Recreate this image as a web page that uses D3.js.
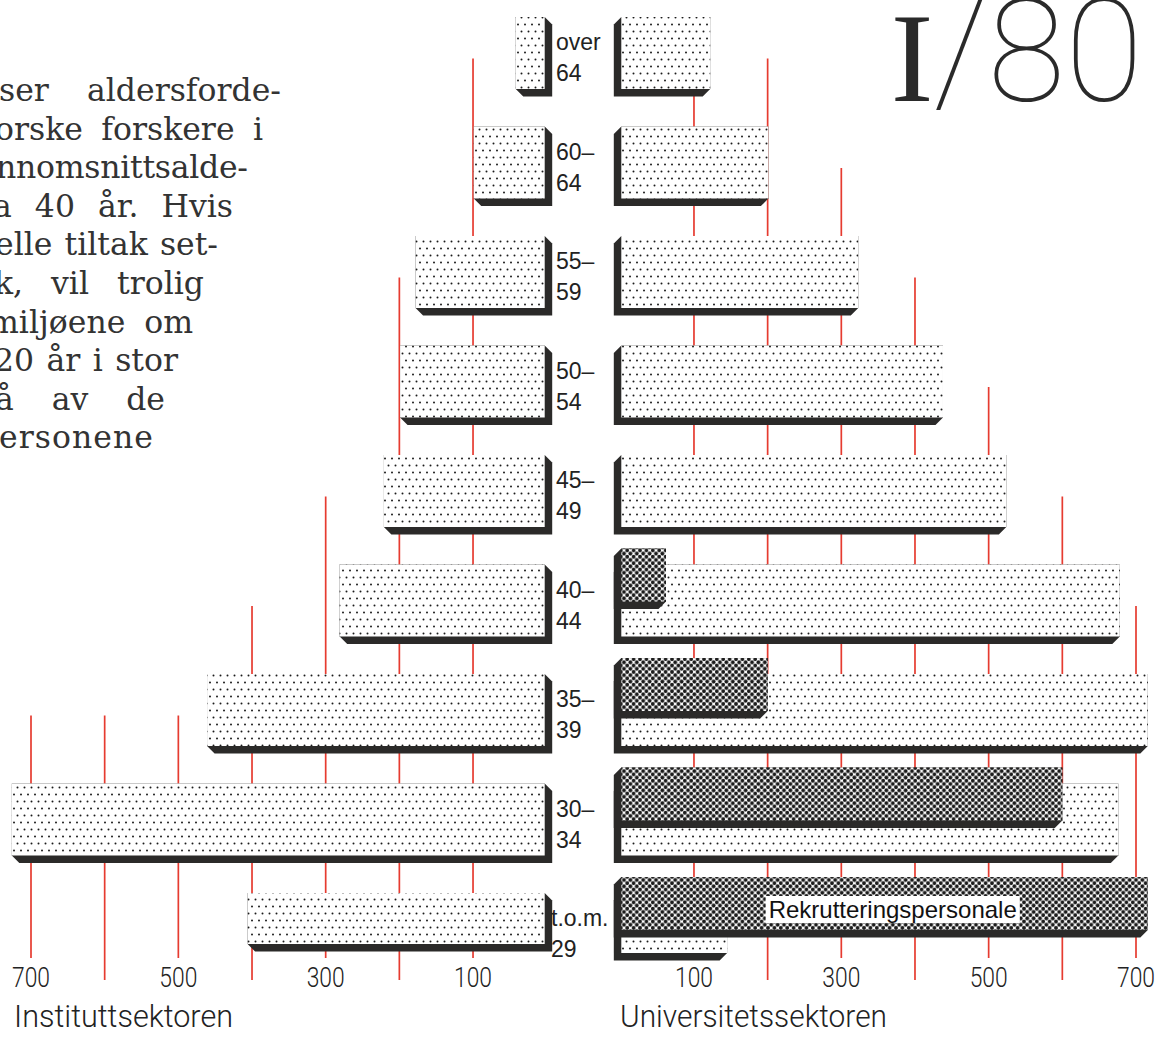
<!DOCTYPE html>
<html><head><meta charset="utf-8">
<script src="https://cdn.jsdelivr.net/npm/d3@7"></script>
<style>body{margin:0;background:#fff}svg{display:block}</style>
</head><body><svg id="c" width="1155" height="1042"></svg>
<script>
// ---------- DATA ----------
const ageKeys = ["over 64","60-64","55-59","50-54","45-49","40-44","35-39","30-34","t.o.m. 29"];
const ageLine1 = ["over","60–","55–","50–","45–","40–","35–","30–","t.o.m."];
const ageLine2 = ["64","64","59","54","49","44","39","34","29"];
const institutt    = [42, 99, 178, 199, 221, 281, 461, 726, 406];
const universitet  = [122, 201, 323, 438, 524, 678, 716, 676, 145];
const rekruttering = [0, 0, 0, 0, 0, 62, 200, 600, 716];
const gridValues = [100, 200, 300, 400, 500, 600, 700];
const tickLabels = [100, 300, 500, 700];
const leftTitle = "Instituttsektoren";
const rightTitle = "Universitetssektoren";
const legendLabel = "Rekrutteringspersonale";
const issueLabel = "I/80";
const textLines = ["ser aldersforde-","orske forskere i","nnomsnittsalde-","a 40 år. Hvis","elle tiltak set-","k, vil trolig","miljøene om","20 år i stor","å av de","ersonene"];

// ---------- SETUP ----------
const svg = d3.select("#c");
const defs = svg.append("defs");
const dotCol = "#1b1b1b", shadowCol = "#2b2a29", red = "#e63b30", ink = "#333";

const pl = defs.append("pattern").attr("id","light").attr("patternUnits","userSpaceOnUse").attr("width",7).attr("height",14);
pl.append("rect").attr("width",7).attr("height",14).attr("fill","#fff");
[[3.5,3.5],[0,10.5],[7,10.5]].forEach(([cx,cy])=>pl.append("circle").attr("cx",cx).attr("cy",cy).attr("r",1.0).attr("fill",dotCol));
const pd = defs.append("pattern").attr("id","dark").attr("patternUnits","userSpaceOnUse").attr("width",6.4).attr("height",6.4);
pd.append("rect").attr("width",6.4).attr("height",6.4).attr("fill","#fff");
[[3.2,3.2],[0,0],[6.4,0],[0,6.4],[6.4,6.4]].forEach(([cx,cy])=>pd.append("circle").attr("cx",cx).attr("cy",cy).attr("r",1.95).attr("fill",dotCol));

const y = d3.scaleBand().domain(ageKeys).range([17, 965]).paddingInner(0.3425).paddingOuter(0).align(0);
const bh = y.bandwidth();
const xL = d3.scaleLinear().domain([0,700]).range([546.7, 31]);
const xR = d3.scaleLinear().domain([0,700]).range([620.3, 1136]);
const sd = 7.5; // extrusion depth
const axisTop = 958; // labelled grid lines end here, tick labels sit below

// ---------- PARAGRAPH ----------
const rightEdges = [281,263,248,233,218,204,193,178,165,153];
const leftStarts = [-1,-5,-4,-7,-5,-6,-11,-6,-5,-1];
const para = svg.append("g").attr("font-family","'DejaVu Serif', serif").attr("font-size",31.5).attr("fill",ink);
textLines.forEach((t,i)=>{
  const n = (t.match(/ /g)||[]).length;
  const el = para.append("text").attr("y", 101 + i*38.6).text(t);
  if (n>0) {
    el.attr("x", rightEdges[i]).attr("text-anchor","end");
    const w = el.node().getComputedTextLength();
    const extra = (rightEdges[i] - leftStarts[i] - w) / n;
    el.attr("word-spacing", Math.max(-5, Math.min(30, extra)));
  } else {
    el.attr("x", leftStarts[i]).attr("textLength", rightEdges[i]-leftStarts[i]).attr("lengthAdjust","spacing");
  }
});

// ---------- ISSUE LABEL ----------
const iss = svg.append("text").attr("x",1143).attr("y",101).attr("text-anchor","end")
  .attr("font-family","Roboto, 'Liberation Sans', sans-serif").attr("font-weight",100).attr("font-size",142).attr("fill","#2a2a2a");
iss.append("tspan").attr("font-family","'Liberation Serif', serif").attr("font-weight",400).attr("font-size",128).text(issueLabel.slice(0,1));
iss.append("tspan").text(issueLabel.slice(1));

// ---------- GRID LINES ----------
function gridTop(vals, v){
  let i = vals.findIndex(d => d >= v - 20);
  if (i < 0) i = vals.length - 1;
  return i === 0 ? y(ageKeys[0]) : y(ageKeys[i]) - 68;
}
const rightMax = universitet.map((d,i)=>Math.max(d, rekruttering[i]));
const grid = svg.append("g").attr("stroke",red).attr("stroke-width",1.7);
gridValues.forEach(v=>{
  const bottom = tickLabels.includes(v) ? axisTop : axisTop + 22;
  grid.append("line").attr("x1",xL(v)).attr("x2",xL(v)).attr("y1",gridTop(institutt,v)).attr("y2",bottom);
  grid.append("line").attr("x1",xR(v)).attr("x2",xR(v)).attr("y1",gridTop(rightMax,v)).attr("y2",bottom);
});

// ---------- BARS ----------
function leftBar(g, xa, xb, y0, y1, fill){
  g.append("path").attr("fill",shadowCol)
   .attr("d",`M${xa},${y0}L${xb},${y0}L${xb+sd},${y0+sd}L${xb+sd},${y1+sd}L${xa+sd},${y1+sd}L${xa},${y1}Z`);
  g.append("rect").attr("x",xa).attr("y",y0).attr("width",xb-xa).attr("height",y1-y0).attr("fill",fill);
}
function rightBar(g, xa, xb, y0, y1, fill){
  g.append("path").attr("fill",shadowCol)
   .attr("d",`M${xa},${y0}L${xb},${y0}L${xb},${y1}L${xb-sd},${y1+sd}L${xa-sd},${y1+sd}L${xa-sd},${y0+sd}Z`);
  g.append("rect").attr("x",xa).attr("y",y0).attr("width",xb-xa).attr("height",y1-y0).attr("fill",fill);
}
const bars = svg.append("g");
ageKeys.forEach((k,i)=>{
  const y0 = y(k);
  leftBar(bars, xL(institutt[i]), xL(0)-2, y0, Math.min(y0 + bh, axisTop - 14), "url(#light)");
  rightBar(bars, xR(0)+1, xR(universitet[i]), y0, Math.min(y0 + bh, axisTop - 5), "url(#light)");
  if (rekruttering[i] > 0) {
    rightBar(bars, xR(0)+1, xR(rekruttering[i]), y0-16, y0+37, "url(#dark)");
  }
});

// legend label inside the last dark bar
const lk = ageKeys[ageKeys.length-1];
const lg = svg.append("g");
const lt = lg.append("text").attr("x", xR(200)+1).attr("y", y(lk)+25).attr("font-family","'Liberation Sans', Arial, sans-serif")
  .attr("font-size",24).attr("fill","#111").text(legendLabel);
const lw = lt.node().getComputedTextLength();
lg.insert("rect","text").attr("x", xR(200)-2).attr("y", y(lk)+3).attr("width", lw+6).attr("height",27).attr("fill","#fff");

// ---------- AGE LABELS ----------
const al = svg.append("g").attr("font-family","'Liberation Sans', Arial, sans-serif").attr("font-size",23).attr("fill","#222");
ageKeys.forEach((k,i)=>{
  const x0 = i === ageKeys.length-1 ? 551 : 556;
  al.append("text").attr("x",x0).attr("y",y(k)+33).text(ageLine1[i]);
  al.append("text").attr("x",x0).attr("y",y(k)+64).text(ageLine2[i]);
});

// ---------- AXIS LABELS ----------
const ax = svg.append("g").attr("font-family","Roboto, 'Liberation Sans', sans-serif").attr("font-weight",300).attr("fill","#222");
tickLabels.forEach(v=>{
  [xL(v), xR(v)].forEach(x=>{
    ax.append("text").attr("x",x).attr("y",987).attr("text-anchor","middle").attr("font-size",27)
      .attr("textLength",38).attr("lengthAdjust","spacingAndGlyphs").text(v);
  });
});
ax.append("text").attr("x",14).attr("y",1027).attr("font-size",31).attr("textLength",219).attr("lengthAdjust","spacingAndGlyphs").text(leftTitle);
ax.append("text").attr("x",620).attr("y",1027).attr("font-size",31).attr("textLength",267).attr("lengthAdjust","spacingAndGlyphs").text(rightTitle);
</script></body></html>
